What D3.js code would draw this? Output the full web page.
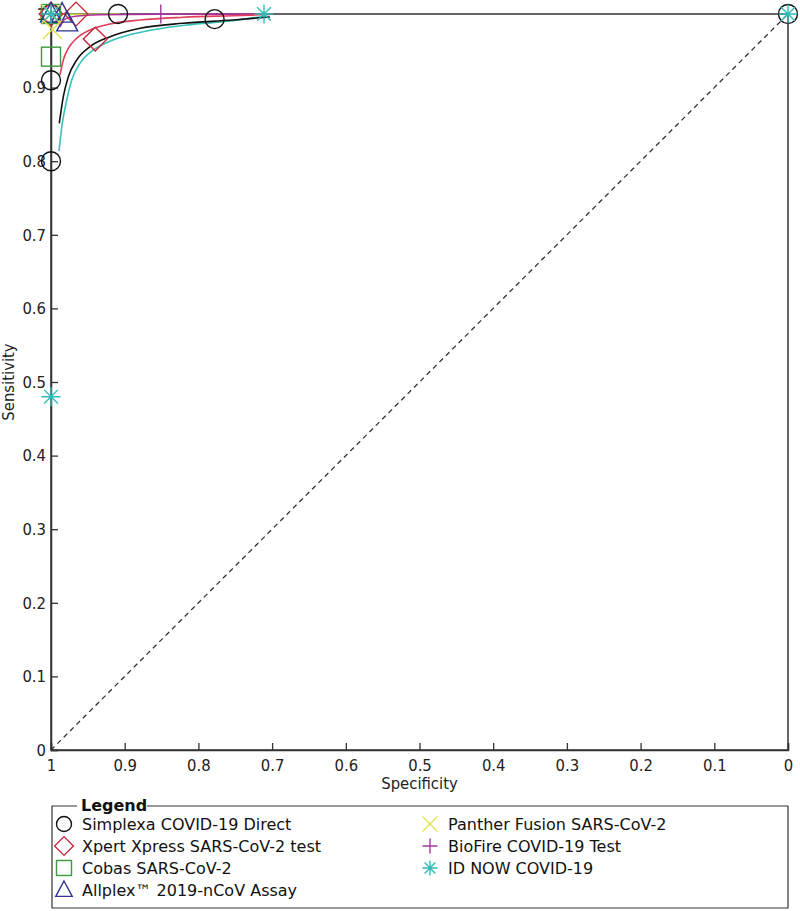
<!DOCTYPE html>
<html>
<head>
<meta charset="utf-8">
<script src="https://cdn.jsdelivr.net/npm/d3@7"></script>
<style>
  body { margin: 0; background: #fff; }
  svg { display: block; }
  .axis-text { font-family: "DejaVu Sans Condensed", "DejaVu Sans", sans-serif; font-size: 16.5px; fill: #222; }
  .legend-text { font-family: "DejaVu Sans", sans-serif; font-size: 16px; fill: #111; }
</style>
</head>
<body>
<div id="chart"></div>
<script>
// SROC plot: observed (specificity, sensitivity) pairs per assay + fitted curves

const xTicks = [1, 0.9, 0.8, 0.7, 0.6, 0.5, 0.4, 0.3, 0.2, 0.1, 0];
const yTicks = [0, 0.1, 0.2, 0.3, 0.4, 0.5, 0.6, 0.7, 0.8, 0.9, 1];

const assays = ["Simplexa COVID-19 Direct", "Xpert Xpress SARS-CoV-2 test", "Cobas SARS-CoV-2",
  "Allplex\u2122 2019-nCoV Assay", "Panther Fusion SARS-CoV-2", "BioFire COVID-19 Test", "ID NOW COVID-19"];

// study points [specificity, sensitivity]
const simplexaPts = [[1, 0.80], [1, 0.91], [1, 1], [0.909, 1], [0.778, 0.993], [0, 1]];
const xpertPts = [[1, 1], [0.966, 1], [0.94, 0.966]];
const cobasPts = [[1, 1], [1, 0.942]];
const allplexPts = [[1, 1], [0.985, 1], [0.978, 0.988]];
const pantherPts = [[1, 1], [0.998, 0.979]];
const biofirePts = [[1, 1], [0.851, 1]];
const idnowPts = [[1, 0.48], [1, 1], [0.711, 1], [0, 1]];

// summary curves [specificity, sensitivity]
const simplexaCurve = [[0.9887, 0.8515], [0.9833, 0.8876], [0.9765, 0.9148], [0.9651, 0.9375], [0.9471, 0.9556],
  [0.9199, 0.9691], [0.8792, 0.9806], [0.8209, 0.9874], [0.753, 0.9918], [0.703, 0.996]];
const xpertCurve = [[0.9878, 0.9171], [0.9833, 0.9375], [0.9765, 0.9534], [0.9651, 0.967], [0.9471, 0.9783],
  [0.9199, 0.9864], [0.8792, 0.9918], [0.8209, 0.9955], [0.753, 0.9977], [0.703, 0.9993]];
const idnowCurve = [[0.9891, 0.8139], [0.985, 0.849], [0.9787, 0.8832], [0.9719, 0.9103], [0.9607, 0.933],
  [0.9426, 0.9511], [0.9159, 0.9647], [0.8752, 0.9759], [0.8155, 0.9851], [0.7531, 0.9909], [0.7096, 0.9973]];
const biofireCurve = [[0.988, 0.982], [0.981, 0.993], [0.967, 0.997], [0.934, 0.999], [0.851, 0.9997], [0.71, 0.9999]];
const pantherCurve = [[0.998, 0.9995], [0.95, 0.9997], [0.907, 0.9998]];

const colors = ["#111111", "#c8283a", "#3e9a3e", "#2c3590", "#e2e24a", "#a23a9e", "#2fbdb7"];
const curveColors = { 0: "#111111", 1: "#e0405c", 4: "#c9d84a", 5: "#b0309e", 6: "#35c2ba" };

const W = 800, H = 911;
const svg = d3.select("#chart").append("svg").attr("width", W).attr("height", H);

const x = d3.scaleLinear().domain([1, 0]).range([51, 788]);
const y = d3.scaleLinear().domain([0, 1]).range([750, 14]);

// frame
svg.append("rect")
  .attr("x", x(1)).attr("y", y(1))
  .attr("width", x(0) - x(1)).attr("height", y(0) - y(1))
  .attr("fill", "none").attr("stroke", "#333").attr("stroke-width", 1.5);

// chance diagonal
svg.append("line")
  .attr("x1", x(1)).attr("y1", y(0)).attr("x2", x(0)).attr("y2", y(1))
  .attr("stroke", "#333").attr("stroke-width", 1.3).attr("stroke-dasharray", "5,4");

// axes: ticks point inward
const xAxis = svg.append("g").attr("transform", `translate(0,${y(0)})`)
  .call(d3.axisBottom(x).tickValues(xTicks).tickSize(-7).tickFormat(d3.format("")));
xAxis.select(".domain").attr("stroke", "#333").attr("stroke-width", 1.5);
xAxis.selectAll(".tick line").attr("stroke", "#333").attr("stroke-width", 1.3);
xAxis.selectAll(".tick text").attr("class", "axis-text").attr("y", 9).attr("dy", "0.71em");

const yAxis = svg.append("g").attr("transform", `translate(${x(1)},0)`)
  .call(d3.axisLeft(y).tickValues(yTicks).tickSize(-7).tickFormat(d3.format("")));
yAxis.select(".domain").attr("stroke", "#333").attr("stroke-width", 1.5);
yAxis.selectAll(".tick line").attr("stroke", "#333").attr("stroke-width", 1.3);
yAxis.selectAll(".tick text").attr("class", "axis-text").attr("x", -5);

svg.append("text").attr("class", "axis-text")
  .attr("x", (x(1) + x(0)) / 2).attr("y", 789).attr("text-anchor", "middle").text("Specificity");
svg.append("text").attr("class", "axis-text")
  .attr("transform", `translate(14,${(y(0) + y(1)) / 2}) rotate(-90)`)
  .attr("text-anchor", "middle").text("Sensitivity");

// curves
const line = d3.line().x((d) => x(d[0])).y((d) => y(d[1])).curve(d3.curveMonotoneX);
const curves = [[4, pantherCurve], [5, biofireCurve], [6, idnowCurve], [0, simplexaCurve], [1, xpertCurve]];
svg.append("g").selectAll("path").data(curves).enter().append("path")
  .attr("d", (d) => line(d[1].slice().sort((a, b) => a[0] - b[0])))
  .attr("fill", "none")
  .attr("stroke", (d) => curveColors[d[0]])
  .attr("stroke-width", 1.6);

// marker shapes
function marker(g, type, color, s) {
  const st = { fill: "none", stroke: color, "stroke-width": 1.4 };
  let el;
  if (type === 0) el = g.append("circle").attr("r", s);
  else if (type === 1) el = g.append("path").attr("d", `M0,${-s * 1.25}L${s * 1.25},0L0,${s * 1.25}L${-s * 1.25},0Z`);
  else if (type === 2) el = g.append("rect").attr("x", -s).attr("y", -s).attr("width", 2 * s).attr("height", 2 * s);
  else if (type === 3) el = g.append("path").attr("d", `M0,${-s * 1.2}L${s * 1.1},${s * 0.85}L${-s * 1.1},${s * 0.85}Z`);
  else if (type === 4) el = g.append("path").attr("d", `M${-s},${-s}L${s},${s}M${s},${-s}L${-s},${s}`);
  else if (type === 5) el = g.append("path").attr("d", `M${-s},0L${s},0M0,${-s}L0,${s}`);
  else {
    const a = s * 0.72;
    el = g.append("path").attr("d", `M${-s},0L${s},0M0,${-s}L0,${s}M${-a},${-a}L${a},${a}M${a},${-a}L${-a},${a}`);
  }
  Object.entries(st).forEach(([k, v]) => el.attr(k, v));
}

const pointSets = [simplexaPts, xpertPts, cobasPts, allplexPts, pantherPts, biofirePts, idnowPts];
const ptLayer = svg.append("g");
pointSets.forEach((pts, i) => {
  pts.forEach((p) => {
    const g = ptLayer.append("g").attr("transform", `translate(${x(p[0])},${y(p[1])})`);
    marker(g, i, colors[i], 9.5);
  });
});

// legend
const lg = svg.append("g");
const L = { x0: 52, y0: 806, x1: 788, y1: 908 };
lg.append("path")
  .attr("d", `M77,${L.y0}L${L.x0},${L.y0}L${L.x0},${L.y1}L${L.x1},${L.y1}L${L.x1},${L.y0}L147,${L.y0}`)
  .attr("fill", "none").attr("stroke", "#333").attr("stroke-width", 1.2);
lg.append("text").attr("class", "legend-text").attr("x", 81).attr("y", 811)
  .style("font-weight", "bold").text("Legend");

const rowY = [824, 846, 868, 890];
assays.forEach((name, i) => {
  const col = i < 4 ? 0 : 1;
  const row = i < 4 ? i : i - 4;
  const sx = col === 0 ? 64 : 430;
  const g = lg.append("g").attr("transform", `translate(${sx},${rowY[row]})`);
  marker(g, i, colors[i], 7.5);
  lg.append("text").attr("class", "legend-text")
    .attr("x", sx + 18).attr("y", rowY[row]).attr("dy", "0.36em").text(name);
});
</script>
</body>
</html>
